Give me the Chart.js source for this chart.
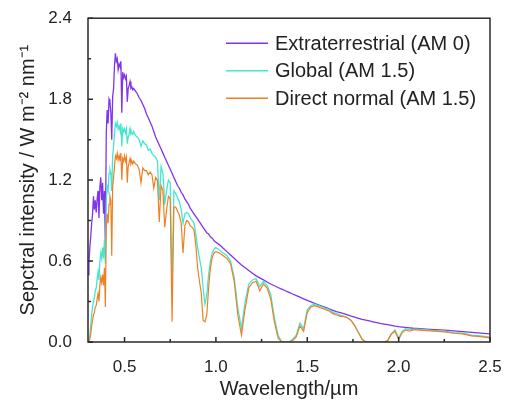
<!DOCTYPE html>
<html>
<head>
<meta charset="utf-8">
<script src="https://cdn.jsdelivr.net/npm/chart.js@4.4.0/dist/chart.umd.min.js"></script>
<style>
html, body { margin: 0; padding: 0; background: #fff; }
</style>
</head>
<body>
<canvas id="spectrum" width="512" height="405"></canvas>
<script>
// wavelength grid in micrometres
const wavelength = [
  0.300,0.305,0.310,0.315,0.320,0.325,0.330,0.335,0.340,0.345,
  0.350,0.355,0.360,0.365,0.370,0.375,0.380,0.385,0.390,0.395,
  0.400,0.405,0.410,0.415,0.420,0.425,0.430,0.435,0.440,0.445,
  0.450,0.455,0.460,0.465,0.470,0.475,0.480,0.485,0.490,0.495,
  0.500,0.505,0.510,0.515,0.520,0.525,0.530,0.535,0.540,0.545,
  0.550,
  0.56,0.57,0.58,0.59,0.60,0.61,0.62,0.63,0.64,0.65,
  0.66,0.67,0.68,0.69,0.70,0.71,0.72,0.73,0.74,0.75,
  0.76,0.77,0.78,0.79,0.80,0.81,0.82,0.83,0.84,0.85,
  0.86,0.87,0.88,0.89,0.90,0.91,0.92,0.93,0.94,0.95,
  0.96,0.97,0.98,0.99,1.00,
  1.02,1.04,1.06,1.08,1.10,1.12,1.14,1.16,1.18,1.20,
  1.22,1.24,1.26,1.28,1.30,1.32,1.34,1.36,1.38,1.40,
  1.42,1.44,1.46,1.48,1.50,1.52,1.54,1.56,1.58,1.60,
  1.62,1.64,1.66,1.68,1.70,1.72,1.74,1.76,1.78,1.80,
  1.82,1.84,1.86,1.88,1.90,1.92,1.94,1.96,1.98,2.00,
  2.02,2.04,2.06,2.08,2.10,
  2.15,2.20,2.25,2.30,2.35,2.40,2.45,2.50
];

// Extraterrestrial (AM 0)
const am0 = [
  0.50,0.58,0.70,0.78,0.88,0.95,1.08,0.98,1.05,0.96,
  1.06,1.12,0.92,1.15,1.22,1.05,1.18,0.95,1.12,0.72,
  1.55,1.72,1.62,1.80,1.78,1.70,1.50,1.82,1.88,2.05,
  2.14,2.08,2.10,2.02,2.06,2.04,2.08,1.70,2.00,1.96,
  1.98,1.95,1.97,1.78,1.88,1.90,1.93,1.88,1.89,1.87,
  1.88,
  1.86,1.84,1.81,1.79,1.76,1.73,1.69,1.66,1.63,1.60,
  1.56,1.52,1.49,1.46,1.43,1.40,1.37,1.34,1.31,1.28,
  1.25,1.22,1.19,1.16,1.14,1.11,1.09,1.06,1.04,1.02,
  0.99,0.97,0.95,0.93,0.91,0.89,0.87,0.85,0.83,0.81,
  0.80,0.78,0.77,0.75,0.74,
  0.72,0.695,0.67,0.645,0.62,0.595,0.57,0.55,0.53,0.51,
  0.49,0.475,0.46,0.445,0.43,0.417,0.404,0.392,0.38,0.368,
  0.356,0.344,0.332,0.32,0.308,0.297,0.286,0.276,0.266,0.256,
  0.245,0.235,0.226,0.218,0.21,0.201,0.192,0.184,0.176,0.168,
  0.162,0.156,0.150,0.144,0.138,0.133,0.128,0.123,0.118,0.114,
  0.111,0.108,0.105,0.102,0.100,
  0.096,0.092,0.088,0.082,0.077,0.072,0.066,0.060
];

// Global (AM 1.5)
const globalAM15 = [
  0.00,0.01,0.05,0.12,0.20,0.26,0.30,0.33,0.38,0.40,
  0.47,0.52,0.46,0.60,0.66,0.62,0.70,0.62,0.76,0.58,
  1.05,1.15,1.12,1.25,1.28,1.25,1.12,1.38,1.45,1.55,
  1.62,1.60,1.63,1.58,1.60,1.57,1.62,1.45,1.58,1.56,
  1.58,1.55,1.58,1.47,1.52,1.54,1.58,1.54,1.55,1.54,
  1.56,
  1.53,1.52,1.50,1.45,1.49,1.47,1.46,1.42,1.43,1.40,
  1.38,1.37,1.34,1.05,1.30,1.25,1.02,1.12,1.20,1.18,
  0.40,1.12,1.10,1.07,1.04,0.98,0.88,0.95,0.96,0.95,
  0.92,0.90,0.88,0.80,0.70,0.62,0.55,0.40,0.28,0.35,
  0.50,0.60,0.66,0.69,0.70,
  0.68,0.66,0.64,0.60,0.48,0.25,0.10,0.30,0.43,0.46,
  0.47,0.41,0.45,0.42,0.35,0.18,0.05,0.00,0.00,0.00,
  0.02,0.05,0.14,0.10,0.24,0.27,0.28,0.27,0.26,0.25,
  0.24,0.22,0.21,0.20,0.19,0.18,0.16,0.12,0.07,0.02,
  0.00,0.00,0.00,0.00,0.00,0.00,0.01,0.06,0.09,0.03,
  0.08,0.10,0.09,0.095,0.095,
  0.09,0.085,0.08,0.07,0.065,0.05,0.045,0.035
];

// Direct normal (AM 1.5)
const directAM15 = [
  0.00,0.00,0.02,0.06,0.12,0.16,0.20,0.22,0.26,0.27,
  0.32,0.36,0.30,0.42,0.48,0.44,0.50,0.42,0.55,0.26,
  0.85,0.95,0.88,1.02,1.08,1.05,0.64,1.15,1.22,1.30,
  1.38,1.36,1.40,1.35,1.38,1.34,1.40,1.20,1.36,1.34,
  1.38,1.34,1.37,1.18,1.30,1.33,1.36,1.32,1.34,1.32,
  1.34,
  1.32,1.31,1.28,1.18,1.29,1.27,1.27,1.24,1.26,1.24,
  1.14,1.22,1.20,0.89,1.16,1.12,0.85,0.98,1.08,1.06,
  0.15,1.00,1.00,0.97,0.94,0.88,0.66,0.86,0.90,0.89,
  0.86,0.85,0.83,0.72,0.55,0.45,0.36,0.16,0.15,0.20,
  0.40,0.55,0.63,0.66,0.67,
  0.66,0.64,0.62,0.58,0.45,0.20,0.05,0.25,0.40,0.44,
  0.45,0.38,0.43,0.40,0.32,0.15,0.03,0.00,0.00,0.00,
  0.01,0.04,0.12,0.08,0.22,0.26,0.27,0.26,0.25,0.24,
  0.23,0.21,0.20,0.19,0.19,0.18,0.16,0.12,0.07,0.02,
  0.00,0.00,0.00,0.00,0.00,0.00,0.01,0.06,0.08,0.02,
  0.07,0.09,0.08,0.09,0.09,
  0.085,0.08,0.075,0.065,0.06,0.045,0.04,0.03
];

const seriesNames = ['Extraterrestrial (AM 0)', 'Global (AM 1.5)', 'Direct normal (AM 1.5)'];
const seriesColors = ['#8034ec', '#45e6cf', '#ee8024'];

const xTicks = [0.5, 1.0, 1.5, 2.0, 2.5];
const xMinorTicks = [0.75, 1.25, 1.75, 2.25];
const yTicks = [0.0, 0.6, 1.2, 1.8, 2.4];
const yMinorTicks = [0.3, 0.9, 1.5, 2.1];

const FONT = '"Liberation Sans", Arial, sans-serif';
const INK = '#222';

function toPoints(ys) {
  return wavelength.map((w, i) => ({ x: w, y: ys[i] }));
}

// frame, inward ticks and the in-plot legend
const framePlugin = {
  id: 'frame',
  afterDatasetsDraw(chart) {
    const ctx = chart.ctx;
    const ca = chart.chartArea;
    const xs = chart.scales.x, ys = chart.scales.y;
    ctx.save();
    ctx.strokeStyle = '#2a2a2a';
    ctx.lineWidth = 1.5;
    ctx.strokeRect(ca.left, ca.top, ca.right - ca.left, ca.bottom - ca.top);

    ctx.beginPath();
    xTicks.forEach(v => {
      const px = xs.getPixelForValue(v);
      ctx.moveTo(px, ca.bottom); ctx.lineTo(px, ca.bottom - 5);
    });
    xMinorTicks.forEach(v => {
      const px = xs.getPixelForValue(v);
      ctx.moveTo(px, ca.bottom); ctx.lineTo(px, ca.bottom - 3);
    });
    yTicks.forEach(v => {
      const py = ys.getPixelForValue(v);
      ctx.moveTo(ca.left, py); ctx.lineTo(ca.left + 5, py);
    });
    yMinorTicks.forEach(v => {
      const py = ys.getPixelForValue(v);
      ctx.moveTo(ca.left, py); ctx.lineTo(ca.left + 3, py);
    });
    ctx.stroke();

    // legend
    ctx.font = '20px ' + FONT;
    ctx.textBaseline = 'middle';
    ctx.textAlign = 'left';
    chart.data.datasets.forEach((ds, i) => {
      const y = ca.top + 25 + i * 27.5;
      ctx.strokeStyle = ds.borderColor;
      ctx.lineWidth = 1.5;
      ctx.beginPath();
      ctx.moveTo(ca.left + 138, y);
      ctx.lineTo(ca.left + 180, y);
      ctx.stroke();
      ctx.fillStyle = INK;
      ctx.fillText(ds.label, ca.left + 187, y + 1);
    });
    ctx.restore();
  }
};

const ctx = document.getElementById('spectrum').getContext('2d');

new Chart(ctx, {
  type: 'line',
  data: {
    datasets: [
      { label: seriesNames[0], data: toPoints(am0), borderColor: seriesColors[0], borderWidth: 1.3, order: 2 },
      { label: seriesNames[1], data: toPoints(globalAM15), borderColor: seriesColors[1], borderWidth: 1.3, order: 1 },
      { label: seriesNames[2], data: toPoints(directAM15), borderColor: seriesColors[2], borderWidth: 1.2, order: 0 }
    ]
  },
  options: {
    responsive: false,
    animation: false,
    devicePixelRatio: 1,
    layout: { padding: { top: 18, right: 22, left: 0, bottom: 0 } },
    elements: { point: { radius: 0 }, line: { tension: 0, fill: false } },
    plugins: { legend: { display: false }, tooltip: { enabled: false } },
    scales: {
      x: {
        type: 'linear',
        min: 0.3,
        max: 2.5,
        afterBuildTicks: s => { s.ticks = xTicks.map(v => ({ value: v })); },
        afterFit: s => { s.height = 63; },
        grid: { display: false },
        border: { display: false },
        ticks: {
          font: { family: FONT, size: 17 },
          color: INK,
          padding: 7,
          maxRotation: 0,
          autoSkip: false,
          callback: v => Number(v).toFixed(1)
        },
        title: {
          display: true,
          text: 'Wavelength/µm',
          font: { family: FONT, size: 20 },
          color: INK,
          padding: { top: 0, bottom: 4 }
        }
      },
      y: {
        type: 'linear',
        min: 0,
        max: 2.4,
        afterBuildTicks: s => { s.ticks = yTicks.map(v => ({ value: v })); },
        afterFit: s => { s.width = 88; },
        grid: { display: false },
        border: { display: false },
        ticks: {
          font: { family: FONT, size: 17 },
          color: INK,
          padding: 8,
          callback: v => Number(v).toFixed(1)
        },
        title: {
          display: true,
          text: 'Sepctral intensity / W m⁻² nm⁻¹',
          font: { family: FONT, size: 20 },
          color: INK,
          padding: { top: 16, bottom: 0 }
        }
      }
    }
  },
  plugins: [framePlugin]
});
</script>
</body>
</html>
